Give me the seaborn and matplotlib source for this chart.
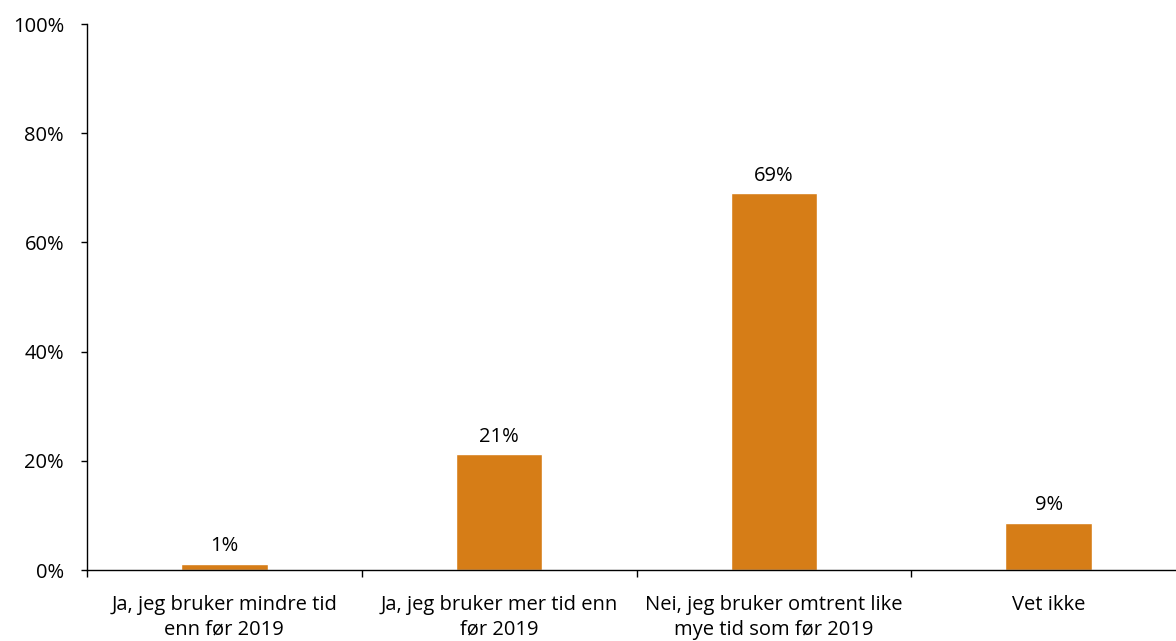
import matplotlib
matplotlib.use("Agg")
import matplotlib.pyplot as plt
import seaborn as sns
import pandas as pd
import numpy as np
from matplotlib.ticker import FixedLocator, PercentFormatter

categories = ["Ja, jeg bruker mindre tid\nenn før 2019",
              "Ja, jeg bruker mer tid enn\nfør 2019",
              "Nei, jeg bruker omtrent like\nmye tid som før 2019",
              "Vet ikke"]
values = [1.1, 21.2, 69.0, 8.6]
labels = ["1%", "21%", "69%", "9%"]
yticks = [0, 20, 40, 60, 80, 100]

sns.set_theme(style="white")
plt.rcParams['font.family'] = ['Open Sans', 'DejaVu Sans']

df = pd.DataFrame({"cat": categories, "val": values})

FS = 14.5
fig = plt.figure(figsize=(11.76, 6.41), dpi=100)
ax = fig.add_axes([87/1176, 71/641, 1099/1176, 546/641])
sns.barplot(data=df, x="cat", y="val", color="#D67D17", width=0.315,
            saturation=1, ax=ax)

ax.set_xlim(-0.5, 3.5)
ax.set_ylim(0, 100)
ax.set_yticks(yticks)
ax.yaxis.set_major_formatter(PercentFormatter(decimals=0))
ax.set_xlabel("")
ax.set_ylabel("")

for i, (v, l) in enumerate(zip(values, labels)):
    ax.annotate(l, (i, v), xytext=(0, 5.5), textcoords="offset points",
                ha="center", va="bottom", fontsize=FS, color="#000000")

for s in ["top", "right"]:
    ax.spines[s].set_visible(False)
for s in ["left", "bottom"]:
    ax.spines[s].set_color("black")
    ax.spines[s].set_linewidth(1.0)

ax.tick_params(axis="y", which="major", left=True, length=4.5, width=1,
               color="black", labelsize=FS, labelcolor="black", pad=12)
ax.tick_params(axis="x", which="major", bottom=False, length=0,
               labelsize=FS, labelcolor="black", pad=18)
ax.xaxis.set_minor_locator(FixedLocator([-0.5, 0.5, 1.5, 2.5, 3.5]))
ax.tick_params(axis="x", which="minor", bottom=True, length=5, width=1,
               color="black")
for t in ax.get_xticklabels():
    t.set_multialignment("center")
    t.set_linespacing(1.3)

fig.savefig("out.png", dpi=100)
